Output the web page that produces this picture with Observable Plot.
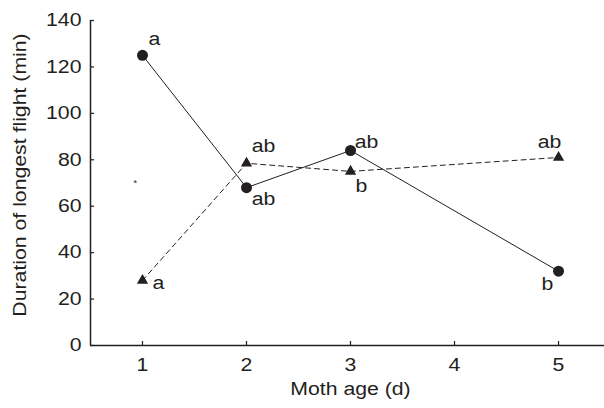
<!DOCTYPE html>
<html><head><meta charset="utf-8">
<script src="https://cdn.jsdelivr.net/npm/d3@7"></script>
<script src="https://cdn.jsdelivr.net/npm/@observablehq/plot@0.6"></script>
<style>body{margin:0;background:#fff}#chart{width:604px;height:408px}</style>
</head><body><div id="chart"></div>
<script>
// Data
const ages = [1, 2, 3, 5];
const seriesCircle = [125, 68, 84, 32];      // solid line, circles
const seriesTriangle = [28, 78.5, 75, 81];   // dashed line, triangles
const lettersCircle = ["a", "ab", "ab", "b"];
const lettersTriangle = ["a", "ab", "b", "ab"];
const xTicks = [1, 2, 3, 4, 5];
const yTicks = [0, 20, 40, 60, 80, 100, 120, 140];
const strayX = [0.93];
const strayY = [70];
const xTitle = "Moth age (d)";
const yTitle = "Duration of longest flight (min)";

// Layout (label offsets in px, per point)
const circleOffsets = [[12, -16], [17, 12], [16, -8], [-11, 13]];
const triangleOffsets = [[16, 3], [17, -17], [11, 15], [-9, -15]];

const ink = "#231f20";
const idx = ages.map((_, i) => i);
const circleData = idx.map(i => ({x: ages[i], y: seriesCircle[i], t: lettersCircle[i]}));
const triData = idx.map(i => ({x: ages[i], y: seriesTriangle[i], t: lettersTriangle[i]}));

const W = 604, H = 408, mL = 90, mR = 0, mT = 20, mB = 63;
const plotH = H - mT - mB, plotW = W - mL - mR;

const labelMarks = [
  ...circleData.map((d, i) => Plot.text([d], {x: "x", y: "y", text: "t", dx: circleOffsets[i][0], dy: circleOffsets[i][1], fill: ink})),
  ...triData.map((d, i) => Plot.text([d], {x: "x", y: "y", text: "t", dx: triangleOffsets[i][0], dy: triangleOffsets[i][1], fill: ink}))
];

const chart = Plot.plot({
  width: W, height: H,
  marginLeft: mL, marginRight: mR, marginTop: mT, marginBottom: mB,
  style: {fontFamily: "'Liberation Sans', Arial, sans-serif", fontSize: "18px", color: ink, background: "#fff"},
  x: {type: "linear", domain: [0.5, 5.442]},
  y: {domain: [0, 140]},
  marks: [
    Plot.axisX(xTicks, {tickSize: 0, tickPadding: 13, label: null, fill: ink}),
    Plot.axisY(yTicks, {tickSize: 0, tickPadding: 9, label: null, fill: ink}),
    Plot.tickX(xTicks, {x: d => d, insetTop: plotH - 4, stroke: ink, strokeWidth: 1.2}),
    Plot.tickY(yTicks, {y: d => d, insetRight: plotW - 4, stroke: ink, strokeWidth: 1.2}),
    Plot.ruleY([0], {stroke: ink, strokeWidth: 1.5}),
    Plot.ruleX([0.5], {stroke: ink, strokeWidth: 1.5}),
    Plot.line(triData, {x: "x", y: "y", stroke: ink, strokeWidth: 1, strokeDasharray: "5,4"}),
    Plot.line(circleData, {x: "x", y: "y", stroke: ink, strokeWidth: 1}),
    Plot.dot(circleData, {x: "x", y: "y", r: 5.5, fill: ink, stroke: "none"}),
    Plot.dot(triData, {x: "x", y: "y", r: 4.2, symbol: "triangle", fill: ink, stroke: "none"}),
    ...labelMarks,
    Plot.text(strayX.map((x, i) => ({x, y: strayY[i]})), {x: "x", y: "y", text: () => "*", fontSize: 9, fill: ink}),
    Plot.text([xTitle], {frameAnchor: "bottom", dx: 3, dy: 49, fill: ink}),
    Plot.text([yTitle], {frameAnchor: "left", textAnchor: "middle", rotate: -90, dx: -70, dy: -8, fill: ink})
  ]
});
document.getElementById("chart").appendChild(chart);

// The reference's lettering is horizontally wider than the font: stretch each text run,
// re-anchoring it by hand so that the stretched run keeps its anchor point.
const stretch = 1.18;
chart.querySelectorAll("text").forEach(t => {
  if (t.textContent.trim() === "*") return;
  const len = t.getComputedTextLength();
  if (!(len > 0)) return;
  const anchor = getComputedStyle(t).textAnchor;
  const newLen = len * stretch;
  const x0 = parseFloat(t.getAttribute("x")) || 0;
  const shift = anchor === "middle" ? -newLen / 2 : anchor === "end" ? -newLen : 0;
  t.setAttribute("x", (x0 + shift).toFixed(2));
  t.setAttribute("text-anchor", "start");
  t.style.textAnchor = "start";
  t.setAttribute("textLength", newLen.toFixed(2));
  t.setAttribute("lengthAdjust", "spacingAndGlyphs");
});
</script>
</body></html>
